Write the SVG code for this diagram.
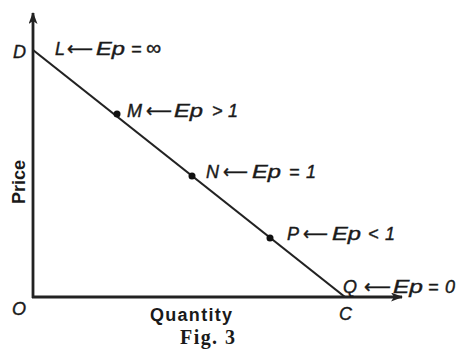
<svg xmlns="http://www.w3.org/2000/svg" width="457" height="352" viewBox="0 0 457 352">
<style>
.ax{stroke:#222;stroke-width:2.8;fill:none}
.ln{stroke:#222;stroke-width:2.2;fill:none}
.lb{font-family:"Liberation Sans",Arial,sans-serif;font-style:italic;font-size:18px;fill:#1a1a1a;stroke:#1a1a1a;stroke-width:0.4}
.ar{font-family:"DejaVu Sans",sans-serif;font-style:normal;font-size:19px}
.tx{font-family:"Liberation Sans",Arial,sans-serif;font-weight:bold;font-size:18px;fill:#1a1a1a}
.fg{font-family:"Liberation Serif","Times New Roman",serif;font-weight:bold;font-size:20px;fill:#1a1a1a}
.pt{fill:#111}
</style>
<defs>
<marker id="ah" markerWidth="12" markerHeight="9" refX="11" refY="4.5" orient="auto" markerUnits="userSpaceOnUse">
<path d="M0,0 L12,4.5 L0,9 L3,4.5 Z" fill="#222"/>
</marker>
</defs>
<g id="connectors">
<line class="ax" x1="33" y1="298" x2="33" y2="13" marker-end="url(#ah)"/>
<line class="ax" x1="32" y1="297" x2="402" y2="297" marker-end="url(#ah)"/>
<line class="ln" x1="33" y1="50" x2="345" y2="297"/>
</g>
<g id="D"><text class="lb" x="13" y="58">D</text></g>
<g id="L"><text class="lb" y="55"><tspan x="55">L</tspan><tspan class="ar" x="67" textLength="26" lengthAdjust="spacingAndGlyphs">⟵</tspan><tspan x="96" textLength="29" lengthAdjust="spacingAndGlyphs">Ep</tspan><tspan x="131">=</tspan><tspan x="146" font-size="21">∞</tspan></text></g>
<g id="M"><circle class="pt" cx="117" cy="114" r="3.5"/><text class="lb" y="117"><tspan x="127">M</tspan><tspan class="ar" x="146" textLength="26" lengthAdjust="spacingAndGlyphs">⟵</tspan><tspan x="174" textLength="29" lengthAdjust="spacingAndGlyphs">Ep</tspan><tspan x="212">&gt;</tspan><tspan x="228">1</tspan></text></g>
<g id="N"><circle class="pt" cx="192" cy="176" r="3.5"/><text class="lb" y="178"><tspan x="206">N</tspan><tspan class="ar" x="223" textLength="25" lengthAdjust="spacingAndGlyphs">⟵</tspan><tspan x="252" textLength="29" lengthAdjust="spacingAndGlyphs">Ep</tspan><tspan x="289">=</tspan><tspan x="306">1</tspan></text></g>
<g id="P"><circle class="pt" cx="270" cy="238" r="3.5"/><text class="lb" y="240"><tspan x="287">P</tspan><tspan class="ar" x="303" textLength="25" lengthAdjust="spacingAndGlyphs">⟵</tspan><tspan x="332" textLength="29" lengthAdjust="spacingAndGlyphs">Ep</tspan><tspan x="368">&lt;</tspan><tspan x="385">1</tspan></text></g>
<g id="Q"><text class="lb" y="293"><tspan x="343">Q</tspan><tspan class="ar" x="364" textLength="27" lengthAdjust="spacingAndGlyphs">⟵</tspan><tspan x="393" textLength="30" lengthAdjust="spacingAndGlyphs">Ep</tspan><tspan x="428">=</tspan><tspan x="445">0</tspan></text></g>
<g id="C"><text class="lb" x="339" y="320">C</text></g>
<g id="O"><text class="lb" x="12" y="315">O</text></g>
<g id="price"><text class="tx" transform="translate(25,182) rotate(-90)" text-anchor="middle">Price</text></g>
<g id="quantity"><text class="tx" x="150" y="321" textLength="82" lengthAdjust="spacing">Quantity</text></g>
<g id="fig"><text class="fg" x="180" y="344" textLength="55" lengthAdjust="spacing">Fig. 3</text></g>
</svg>
